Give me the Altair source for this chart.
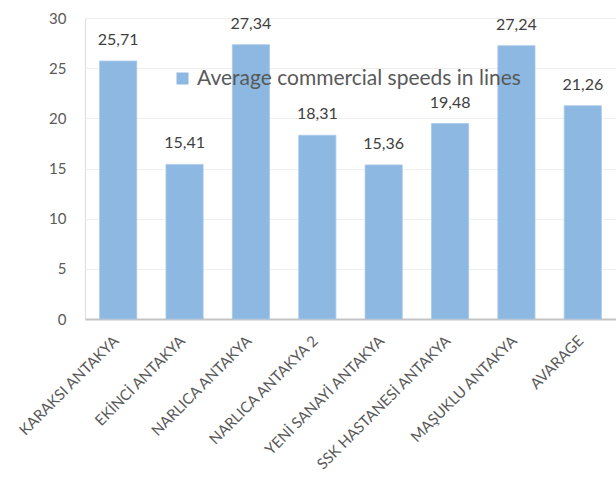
import altair as alt
import pandas as pd

# Average commercial speeds per line
lines = [
    "KARAKSI ANTAKYA",
    "EKİNCİ ANTAKYA",
    "NARLICA ANTAKYA",
    "NARLICA ANTAKYA 2",
    "YENİ SANAYİ ANTAKYA",
    "SSK HASTANESİ ANTAKYA",
    "MAŞUKLU  ANTAKYA",
    "AVARAGE",
]
speeds = [25.71, 15.41, 27.34, 18.31, 15.36, 19.48, 27.24, 21.26]
series_name = "Average commercial speeds in lines"

df = pd.DataFrame({"line": lines, "speed": speeds})
df["series"] = series_name
df["label"] = [f"{v:.2f}".replace(".", ",") for v in speeds]

FONT = "Lato"
BAR = "#8cb8e1"

base = alt.Chart(df).encode(
    x=alt.X(
        "line:N",
        sort=lines,
        title=None,
        scale=alt.Scale(paddingInner=0.44, paddingOuter=0.22),
        axis=alt.Axis(
            labelAngle=-45,
            labelFontSize=15,
            labelColor="#595959",
            labelFont=FONT,
            labelPadding=14,
            labelOffset=-7,
            ticks=False,
            domainColor="#c4c4c4",
            domainWidth=2,
            grid=False,
            labelLimit=300,
        ),
    )
)

bars = base.mark_bar(color=BAR, stroke="#a9c9e8", strokeWidth=0.8).encode(
    y=alt.Y(
        "speed:Q",
        title=None,
        scale=alt.Scale(domain=[0, 30], nice=False),
        axis=alt.Axis(
            values=[0, 5, 10, 15, 20, 25, 30],
            labelFontSize=15,
            labelColor="#595959",
            labelFont=FONT,
            labelPadding=19,
            ticks=False,
            domain=False,
            gridColor="#efefef",
            gridWidth=1,
        ),
    ),
    color=alt.Color(
        "series:N",
        scale=alt.Scale(range=[BAR]),
        legend=alt.Legend(
            title=None,
            orient="none",
            legendX=87,
            legendY=50,
            symbolType="square",
            symbolSize=144,
            symbolStrokeWidth=0,
            labelFontSize=21,
            labelFont=FONT,
            labelColor="#595959",
            labelLimit=500,
            padding=0,
            labelOffset=4,
        ),
    ),
)

labels = base.mark_text(
    baseline="middle", dy=-21, fontSize=16, font=FONT, color="#404040"
).encode(y="speed:Q", text="label:N")

chart = (
    (bars + labels)
    .properties(
        width=531,
        height=301,
        autosize=alt.AutoSizeParams(type="none"),
        padding={"left": 85, "top": 18, "right": 0, "bottom": 176},
    )
    .configure_view(stroke=None)
    .configure(background="white")
)

chart.save("out.html", embed_options={"renderer": "svg", "actions": False})
